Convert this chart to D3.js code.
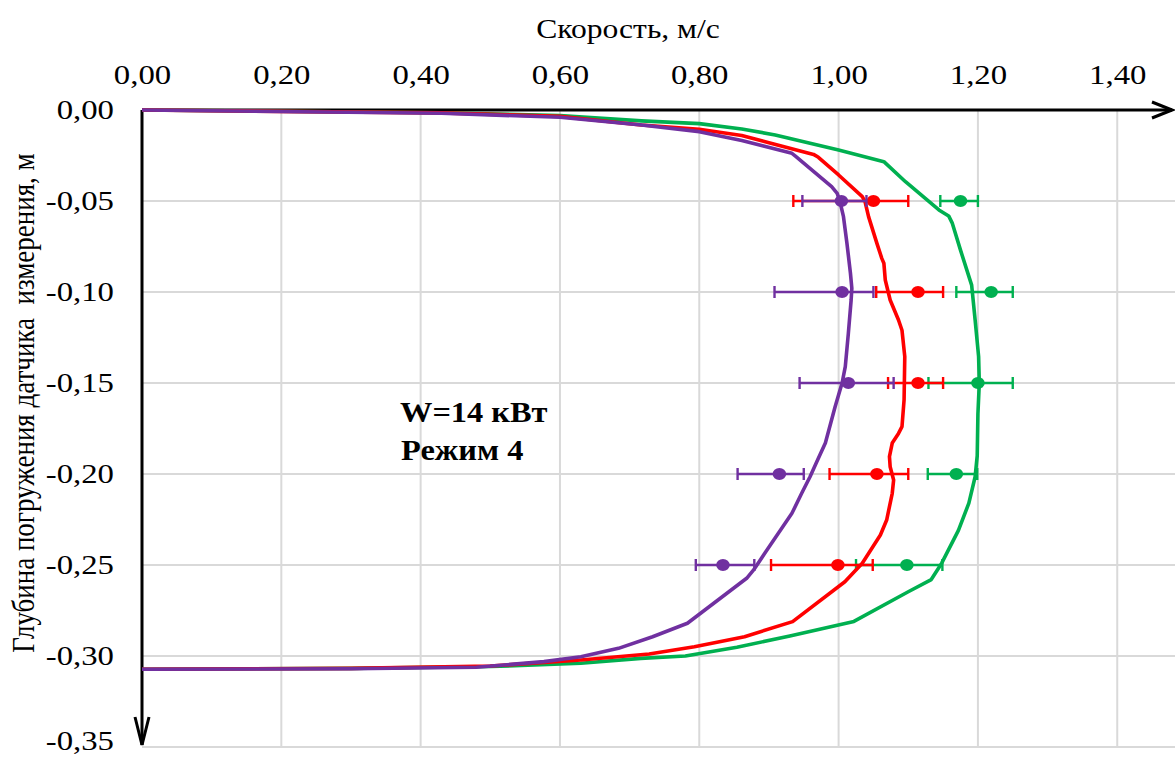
<!DOCTYPE html>
<html>
<head>
<meta charset="utf-8">
<script src="https://cdn.jsdelivr.net/npm/d3@7/dist/d3.min.js"></script>
<style>
  html, body { margin: 0; padding: 0; background: #fff; }
  svg { display: block; }
  svg text { font-family: "Liberation Serif", "Times New Roman", Times, "DejaVu Serif", serif; fill: #000; }
</style>
</head>
<body>
<svg id="chart" width="1175" height="758"></svg>
<script>
// Velocity profiles: [velocity m/s, depth m]
const greenProfile = [
  [0, 0], [0.43, -0.0015], [0.60, -0.003], [0.717, -0.006], [0.80, -0.0075], [0.861, -0.0104],
  [0.909, -0.0137], [1.00, -0.022], [1.065, -0.0284], [1.096, -0.0394], [1.144, -0.0549],
  [1.158, -0.0582], [1.163, -0.062], [1.175, -0.077], [1.191, -0.0962], [1.196, -0.1154],
  [1.201, -0.1355], [1.202, -0.15], [1.200, -0.167], [1.199, -0.19], [1.196, -0.2015],
  [1.187, -0.216], [1.172, -0.231], [1.148, -0.249], [1.133, -0.258], [1.100, -0.2647],
  [1.022, -0.281], [0.930, -0.289], [0.854, -0.2952], [0.780, -0.300], [0.716, -0.3013],
  [0.630, -0.304], [0.50, -0.3058], [0.30, -0.3068], [0, -0.3073]
];
const redProfile = [
  [0, 0], [0.43, -0.0016], [0.60, -0.0035], [0.717, -0.0082], [0.80, -0.0106], [0.861, -0.014],
  [0.900, -0.018], [0.964, -0.0244], [0.971, -0.026], [1.000, -0.0357], [1.034, -0.0476],
  [1.038, -0.0504], [1.043, -0.0586], [1.055, -0.0733], [1.062, -0.0815], [1.065, -0.0842],
  [1.067, -0.0934], [1.074, -0.1044], [1.086, -0.1154], [1.091, -0.121], [1.095, -0.1355],
  [1.094, -0.1593], [1.091, -0.174], [1.086, -0.1777], [1.077, -0.183], [1.073, -0.1905],
  [1.074, -0.196], [1.079, -0.2033], [1.077, -0.2106], [1.069, -0.2253], [1.060, -0.2335],
  [1.034, -0.249], [1.009, -0.2592], [0.934, -0.2811], [0.865, -0.2894], [0.793, -0.2949],
  [0.728, -0.2989], [0.630, -0.3022], [0.50, -0.3055], [0.30, -0.3068], [0, -0.3073]
];
const purpleProfile = [
  [0, 0], [0.43, -0.0018], [0.60, -0.004], [0.717, -0.0082], [0.80, -0.0119], [0.861, -0.0167],
  [0.933, -0.0238], [0.938, -0.0253], [0.990, -0.0421], [0.998, -0.0458], [1.002, -0.0504],
  [1.007, -0.0586], [1.012, -0.0733], [1.017, -0.0897], [1.019, -0.098], [1.018, -0.1044],
  [1.014, -0.1227], [1.0096, -0.141], [1.005, -0.15], [0.995, -0.163], [0.981, -0.183],
  [0.969, -0.193], [0.959, -0.2015], [0.947, -0.2106], [0.933, -0.2216], [0.894, -0.2436],
  [0.878, -0.2527], [0.868, -0.2573], [0.783, -0.282], [0.733, -0.2894], [0.684, -0.2958],
  [0.630, -0.3004], [0.577, -0.3031], [0.48, -0.3062], [0.30, -0.307], [0, -0.3073]
];

// Measured points with min / max range
const measureDepths = [-0.05, -0.10, -0.15, -0.20, -0.25];
const greenMean   = [1.175, 1.219, 1.200, 1.169, 1.098];
const greenLow    = [1.146, 1.169, 1.129, 1.128, 1.025];
const greenHigh   = [1.200, 1.250, 1.250, 1.199, 1.149];
const redMean     = [1.050, 1.114, 1.114, 1.055, 0.999];
const redLow      = [0.935, 1.054, 1.071, 0.987, 0.903];
const redHigh     = [1.100, 1.150, 1.150, 1.100, 1.049];
const purpleMean  = [1.004, 1.005, 1.014, 0.915, 0.834];
const purpleLow   = [0.948, 0.908, 0.944, 0.855, 0.795];
const purpleHigh  = [1.040, 1.050, 1.079, 0.950, 0.879];

const xTicks = [0, 0.2, 0.4, 0.6, 0.8, 1.0, 1.2, 1.4];
const yTicks = [0, -0.05, -0.10, -0.15, -0.20, -0.25, -0.30, -0.35];

const series = [
  { name: "green",  color: "#00B050", profile: greenProfile,  mean: greenMean,  low: greenLow,  high: greenHigh },
  { name: "red",    color: "#FF0000", profile: redProfile,    mean: redMean,    low: redLow,    high: redHigh },
  { name: "purple", color: "#7030A0", profile: purpleProfile, mean: purpleMean, low: purpleLow, high: purpleHigh }
];

// the whole figure is set in a slightly widened type
const WIDEN = 1.17;

const svg = d3.select("#chart");
const x = d3.scaleLinear().domain([0, 1.5]).range([142, 142 + 1.5 * 696.6]);
const y = d3.scaleLinear().domain([0, -0.35]).range([110, 747]);
const fmt = v => d3.format(".2f")(v).replace(".", ",").replace("−", "-");

// grid
const grid = svg.append("g").attr("stroke", "#D9D9D9").attr("stroke-width", 2);
grid.selectAll("line.h").data(yTicks.slice(1)).join("line")
  .attr("x1", x(0)).attr("x2", x(1.5)).attr("y1", d => y(d)).attr("y2", d => y(d));
grid.selectAll("line.v").data(xTicks.slice(1)).join("line")
  .attr("y1", y(0)).attr("y2", y(-0.35)).attr("x1", d => x(d)).attr("x2", d => x(d));

// axes (top x axis, left y axis) with arrows
const axisG = svg.append("g").attr("stroke", "#000").attr("stroke-width", 3).attr("fill", "none");
const xEnd = 1172, yEnd = 745;
axisG.append("line").attr("x1", x(0)).attr("x2", xEnd).attr("y1", y(0)).attr("y2", y(0));
axisG.append("path").attr("d", `M${xEnd - 20},${y(0) - 8} L${xEnd},${y(0)} L${xEnd - 20},${y(0) + 8}`);
axisG.append("line").attr("x1", x(0)).attr("x2", x(0)).attr("y1", y(0)).attr("y2", yEnd);
axisG.append("path").attr("d", `M${x(0) - 7},${yEnd - 28} L${x(0)},${yEnd} L${x(0) + 7},${yEnd - 28}`);

// tick labels
const xAxis = d3.axisTop(x).tickValues(xTicks).tickFormat(fmt).tickSize(0).tickPadding(0);
const gx = svg.append("g").attr("transform", "translate(0,84)").call(xAxis)
  .attr("font-family", null).attr("font-size", null);
gx.select(".domain").remove();
gx.selectAll("text").style("font-size", "28px").attr("fill", "#000").attr("dy", 0)
  .attr("transform", `scale(${WIDEN},1)`);

const yAxis = d3.axisLeft(y).tickValues(yTicks).tickFormat(fmt).tickSize(0).tickPadding(0);
const gy = svg.append("g").attr("transform", "translate(114,0)").call(yAxis)
  .attr("font-family", null).attr("font-size", null);
gy.select(".domain").remove();
gy.selectAll("text").style("font-size", "28px").attr("fill", "#000")
  .attr("dy", d => d === -0.35 ? "0.08em" : "0.32em")
  .attr("transform", `scale(${WIDEN},1)`);

// axis titles
svg.append("text").attr("transform", `translate(628,38) scale(${WIDEN},1)`).attr("text-anchor", "middle")
  .style("font-size", "27px").text("Скорость, м/с");
svg.append("text").attr("transform", `translate(34,403) scale(${WIDEN},1) rotate(-90)`).attr("text-anchor", "middle")
  .style("font-size", "27px").style("white-space", "pre")
  .text("Глубина погружения датчика  измерения, м");

// series: profile line, range bars, markers
const line = d3.line().x(d => x(d[0])).y(d => y(d[1]));
series.forEach(s => {
  const g = svg.append("g");
  g.append("path").datum(s.profile).attr("d", line)
    .attr("fill", "none").attr("stroke", s.color).attr("stroke-width", 3.6)
    .attr("stroke-linejoin", "round");
  const pts = measureDepths.map((d, i) => ({ d, m: s.mean[i], lo: s.low[i], hi: s.high[i] }));
  const eb = g.append("g").attr("stroke", s.color).attr("stroke-width", 2.4);
  eb.selectAll("line.bar").data(pts).join("line")
    .attr("x1", p => x(p.lo)).attr("x2", p => x(p.hi)).attr("y1", p => y(p.d)).attr("y2", p => y(p.d));
  eb.selectAll("line.lo").data(pts).join("line")
    .attr("x1", p => x(p.lo)).attr("x2", p => x(p.lo)).attr("y1", p => y(p.d) - 6).attr("y2", p => y(p.d) + 6);
  eb.selectAll("line.hi").data(pts).join("line")
    .attr("x1", p => x(p.hi)).attr("x2", p => x(p.hi)).attr("y1", p => y(p.d) - 6).attr("y2", p => y(p.d) + 6);
  g.selectAll("ellipse").data(pts).join("ellipse")
    .attr("cx", p => x(p.m)).attr("cy", p => y(p.d)).attr("rx", 6.8).attr("ry", 6).attr("fill", s.color);
});

// annotation
const note = svg.append("text").attr("transform", `translate(400,0) scale(1.08,1)`)
  .style("font-size", "30px").style("font-weight", "bold");
note.append("tspan").attr("x", 0).attr("y", 422).text("W=14 кВт");
note.append("tspan").attr("x", 1).attr("y", 460).text("Режим 4");
</script>
</body>
</html>
